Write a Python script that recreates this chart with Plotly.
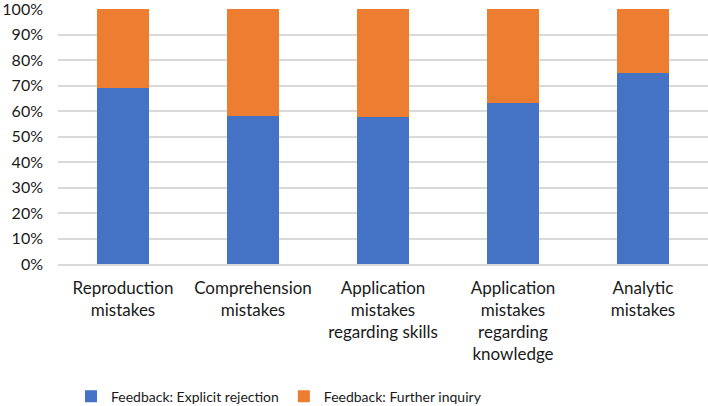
import plotly.graph_objects as go

categories = [
    "Reproduction<br>mistakes",
    "Comprehension<br>mistakes",
    "Application<br>mistakes<br>regarding skills",
    "Application<br>mistakes<br>regarding<br>knowledge",
    "Analytic<br>mistakes",
]
explicit_rejection = [0.69, 0.582, 0.578, 0.633, 0.748]
further_inquiry = [1 - v for v in explicit_rejection]
tick_vals = [i / 10 for i in range(11)]
tick_text = [f"{i*10}%" for i in range(11)]

FONT = "Lato"
TXT = "#1a1a1a"
fig = go.Figure()
fig.add_trace(go.Bar(x=categories, y=explicit_rejection, name="Feedback: Explicit rejection",
                     marker=dict(color="#4472C4", line=dict(width=0))))
fig.add_trace(go.Bar(x=categories, y=further_inquiry, name="Feedback: Further inquiry",
                     marker=dict(color="#ED7D31", line=dict(width=0))))

fig.update_layout(
    barmode="stack",
    bargap=0.6,
    width=708, height=406,
    margin=dict(l=58, r=0, t=9, b=142, autoexpand=False),
    paper_bgcolor="white", plot_bgcolor="white",
    font=dict(family=FONT, size=17, color=TXT),
    showlegend=True,
    legend=dict(orientation="h", x=0.02, xanchor="left", y=-0.52, yanchor="middle",
                font=dict(size=14, color=TXT), traceorder="normal", itemwidth=30),
    hovermode=False,
)
fig.update_yaxes(range=[0, 1.0005], tickvals=tick_vals, ticktext=tick_text, automargin=False,
                 showgrid=True, gridcolor="#D9D9D9", gridwidth=1.5, zeroline=False,
                 showline=False, ticks="", ticklabelstandoff=14, ticklabeloverflow="allow",
                 tickfont=dict(size=16))
fig.update_xaxes(showline=True, linecolor="#D9D9D9", linewidth=1.5, ticks="", automargin=False,
                 tickangle=0, ticklabelstandoff=8)

fig.write_html("out.html", config={"displayModeBar": False},
               post_script="document.body.style.margin='0';")
